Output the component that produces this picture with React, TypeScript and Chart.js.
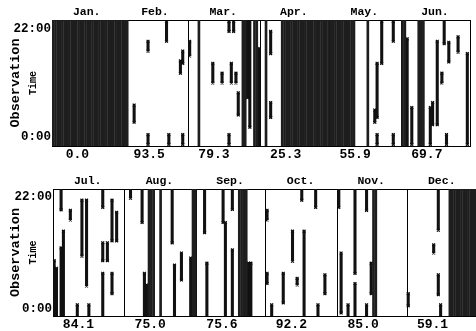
import React, { useEffect, useRef } from "react";
import { Chart, registerables } from "chart.js";

Chart.register(...registerables);

// ---------- labels ----------
const monthsA = ["Jan.", "Feb.", "Mar.", "Apr.", "May.", "Jun."];
const daysA = [31, 28, 31, 30, 31, 30];
const availA = ["0.0", "93.5", "79.3", "25.3", "55.9", "69.7"];

const monthsB = ["Jul.", "Aug.", "Sep.", "Oct.", "Nov.", "Dec."];
const daysB = [31, 31, 30, 31, 30, 31];
const availB = ["84.1", "75.0", "75.6", "92.2", "85.0", "59.1"];

const hourTicks = [0, 22];
const hourLabels = ["0:00", "22:00"];

// ---------- days with no observation at all ----------
const fullJan = [1, 2, 3, 4, 5, 6, 7, 8, 9, 10, 11, 12, 13, 14, 15, 16, 17, 18, 19, 20, 21, 22, 23, 24, 25, 26, 27, 28, 29, 30, 31];
const fullFeb = [1, 2];
const fullMar = [5, 24, 25, 29, 30];
const fullApr = [3, 10, 11, 12, 13, 14, 15, 16, 17, 18, 19, 20, 21, 22, 23, 24, 25, 26, 27, 28, 29, 30];
const fullMay = [1, 2, 3, 4, 5, 6, 7, 8, 9, 10, 11, 17];
const fullJun = [1, 2, 8, 9, 10];
const fullJul: number[] = [];
const fullAug = [11, 12, 13, 16, 30, 31];
const fullSep = [19, 20, 21, 22];
const fullOct: number[] = [];
const fullNov = [16, 17];
const fullDec = [19, 20, 21, 22, 23, 24, 25, 26, 27, 28, 29, 30, 31];

// ---------- partial gaps: [day, fromHour, toHour] ----------
const gapsJan: number[][] = [];
const gapsFeb = [[5, 3, 6.5], [11, 17.5, 19.5], [11, -1.5, 0.5], [19, 19.5, 23.5], [20, -1.5, 0.5], [25, 13, 15.5], [26, 15, 17.5], [26, -1.5, 0.5]];
const gapsMar = [[1, 16.5, 19.5], [11, 11, 15], [15, 11, 13], [18, 21.5, 23.5], [18, -1.5, 0.5], [19, 11, 15], [20, 21.5, 23.5], [21, 11, 13], [22, 4.5, 9], [26, 8, 23.8], [27, 2, 23.8], [31, -1.8, 18]];
const gapsApr = [[5, 17, 21.5], [5, 4, 7]];
const gapsMay = [[20, 3, 5.5], [21, 4, 15], [21, -1.5, 0.5], [23, 15, 23.5], [28, 19.5, 23.5], [28, -1.5, 0.5]];
const gapsJun = [[3, -1.8, 20], [5, -1.5, 6], [13, -1.5, 6], [14, 2.5, 7], [16, 2.5, 19.5], [18, 11, 13], [19, 19, 23.8], [20, -1.5, 0.5], [21, 15.3, 19.3], [25, 17.3, 20.4], [29, -1.5, 17]];
const gapsJul = [[1, -1.4, 9.5], [2, -1.4, 8], [4, 19.5, 23.5], [4, -1.4, 12], [5, -1.4, 15.3], [8, 17.5, 19.4], [11, -1.4, 0.8], [13, 10.4, 21.4], [15, 4.5, 21.4], [16, -1.4, 0.8], [22, 20, 23.4], [22, 9.5, 13], [22, -1.4, 7], [24, 9.5, 13], [26, 13.4, 21.4], [26, 3, 7], [28, 13.4, 19]];
const gapsAug = [[3, 21.8, 23.6], [8, 17, 23.6], [9, -1.4, 7], [10, -1.4, 4.7], [21, 13, 23.6], [22, -1.4, 8.6], [25, 5.7, 11], [29, -1.4, 10]];
const gapsSep = [[4, 15, 23.6], [5, -1.4, 9], [12, 17, 23.6], [13, -1.4, 17], [16, 19.6, 23.6], [16, -1.4, 11.6], [23, -1.4, 9], [24, -1.4, 9]];
const gapsOct = [[1, 17.5, 19.4], [1, 5, 7], [3, -1.4, 0.8], [8, 1.2, 7], [12, 9.4, 15.3], [14, 4.7, 6], [16, 21.4, 23.6], [17, -1.4, 15.3], [22, 20, 23.6], [23, -1.4, 0.8], [26, 3, 6.7]];
const gapsNov = [[1, 20, 23.6], [2, -0.8, 11], [5, -1.4, 0.8], [8, 7, 23.6], [8, -1.4, 5], [13, 19.4, 23.6], [13, -1.4, 0.8], [15, 3, 9]];
const gapsDec = [[1, 0.6, 3], [12, 11, 12.6], [14, 15.5, 23.6], [14, 2.8, 6.7], [15, -1.4, 0.8]];

type RowCfg = {
  months: string[];
  days: number[];
  avail: string[];
  full: number[][];
  gaps: number[][][];
  yMin: number;
  yMax: number;
  width: number;
  height: number;
  topH: number;
  bottomH: number;
  axisW: number;
  padRight: number;
};

const FONT = "'Liberation Mono', 'DejaVu Sans Mono', monospace";

function RowChart({ cfg }: { cfg: RowCfg }) {
  const ref = useRef<HTMLCanvasElement>(null);
  useEffect(() => {
    if (!ref.current) return;
    const starts: number[] = [];
    let acc = 0;
    cfg.days.forEach((d) => {
      starts.push(acc);
      acc += d;
    });
    const total = acc;
    const fullBars: any[] = [];
    cfg.full.forEach((list, m) =>
      list.forEach((d) => fullBars.push({ x: starts[m] + d - 0.5, y: [cfg.yMin - 3, cfg.yMax + 3] }))
    );
    const gapBars: any[] = [];
    const caps: any[] = [];
    cfg.gaps.forEach((list, m) =>
      list.forEach(([d, a, b]) => {
        const x = starts[m] + d - 0.5;
        gapBars.push({ x, y: [a, b] });
        if (a > cfg.yMin + 0.3) caps.push({ x, y: a });
        if (b < cfg.yMax - 0.3) caps.push({ x, y: b });
      })
    );
    const boundaries = [...starts, total];
    const topPos = starts.map((s, i) => s + cfg.days[i] / 2 - 0.5);
    const botPos = starts.map((s) => s + 11);

    const xCommon = { type: "linear" as const, min: 0, max: total, offset: false };

    const chart = new Chart(ref.current, {
      type: "bar",
      data: {
        datasets: [
          {
            type: "bar",
            data: fullBars,
            backgroundColor: "#1e1e1e",
            barThickness: 2,
            grouped: false,
            xAxisID: "x",
            yAxisID: "y",
          } as any,
          {
            type: "bar",
            data: gapBars,
            backgroundColor: "#111",
            barThickness: 2.4,
            grouped: false,
            xAxisID: "x",
            yAxisID: "y",
          } as any,
          {
            type: "scatter",
            data: caps,
            pointStyle: "crossRot",
            radius: 2,
            borderWidth: 1.2,
            borderColor: "#000",
            xAxisID: "x",
            yAxisID: "y",
          } as any,
        ],
      },
      options: {
        animation: false,
        responsive: false,
        devicePixelRatio: 1,
        layout: { padding: { left: 0, right: cfg.padRight, top: 0, bottom: 0 } },
        plugins: { legend: { display: false }, tooltip: { enabled: false } },
        scales: {
          x: {
            ...xCommon,
            position: "bottom",
            weight: 1,
            afterBuildTicks: (s: any) => {
              s.ticks = botPos.map((v) => ({ value: v }));
            },
            afterFit: (s: any) => {
              s.height = cfg.bottomH;
            },
            ticks: {
              autoSkip: false,
              maxRotation: 0,
              minRotation: 0,
              padding: 1,
              color: "#000",
              font: { family: FONT, size: 13, weight: "bold" },
              callback: (_v: any, i: number) => cfg.avail[i],
            },
            grid: { display: false, drawTicks: false, offset: false },
            border: { display: true, color: "#000", width: 1 },
          },
          xDiv: {
            ...xCommon,
            position: "bottom",
            weight: 0,
            afterBuildTicks: (s: any) => {
              s.ticks = boundaries.map((v) => ({ value: v }));
            },
            afterFit: (s: any) => {
              s.height = 0;
            },
            ticks: { display: false },
            grid: { display: true, drawTicks: false, offset: false, color: "#000", lineWidth: 1 },
            border: { display: false },
          },
          xTop: {
            ...xCommon,
            position: "top",
            afterBuildTicks: (s: any) => {
              s.ticks = topPos.map((v) => ({ value: v }));
            },
            afterFit: (s: any) => {
              s.height = cfg.topH;
            },
            ticks: {
              autoSkip: false,
              maxRotation: 0,
              minRotation: 0,
              padding: 1,
              color: "#000",
              font: { family: FONT, size: 11.5, weight: "bold" },
              callback: (_v: any, i: number) => cfg.months[i],
            },
            grid: { display: false, drawTicks: false, offset: false },
            border: { display: true, color: "#000", width: 1 },
          },
          y: {
            type: "linear",
            position: "left",
            weight: 0,
            min: cfg.yMin,
            max: cfg.yMax,
            afterBuildTicks: (s: any) => {
              s.ticks = hourTicks.map((v) => ({ value: v }));
            },
            afterFit: (s: any) => {
              s.width = cfg.axisW;
            },
            ticks: {
              padding: 1,
              color: "#000",
              font: { family: FONT, size: 12.5, weight: "bold" },
              callback: (_v: any, i: number) => hourLabels[i],
            },
            grid: { display: false, drawTicks: false },
            border: { display: true, color: "#000", width: 1 },
            title: {
              display: true,
              text: "Observation",
              color: "#000",
              font: { family: FONT, size: 13.5, weight: "bold" },
              padding: { top: 7, bottom: 0 },
            },
          },
          yTime: {
            type: "linear",
            position: "left",
            weight: 2,
            min: cfg.yMin,
            max: cfg.yMax,
            afterFit: (s: any) => {
              s.width = 0;
            },
            ticks: { display: false },
            grid: { display: false, drawTicks: false },
            border: { display: false },
            title: {
              display: true,
              text: "Time",
              color: "#000",
              font: { family: FONT, size: 10, weight: "bold" },
              padding: { top: 27, bottom: 0 },
            },
          },
        },
      } as any,
    });
    return () => chart.destroy();
  }, []);
  return (
    <div style={{ width: 476, height: cfg.height, overflow: "hidden" }}>
      <canvas ref={ref} width={cfg.width} height={cfg.height} style={{ display: "block", width: cfg.width, height: cfg.height }} />
    </div>
  );
}

const rowA: RowCfg = {
  months: monthsA,
  days: daysA,
  avail: availA,
  full: [fullJan, fullFeb, fullMar, fullApr, fullMay, fullJun],
  gaps: [gapsJan, gapsFeb, gapsMar, gapsApr, gapsMay, gapsJun],
  yMin: -1.83,
  yMax: 23.83,
  width: 476,
  height: 165,
  topH: 20,
  bottomH: 19,
  axisW: 52,
  padRight: 5,
};

const rowB: RowCfg = {
  months: monthsB,
  days: daysB,
  avail: availB,
  full: [fullJul, fullAug, fullSep, fullOct, fullNov, fullDec],
  gaps: [gapsJul, gapsAug, gapsSep, gapsOct, gapsNov, gapsDec],
  yMin: -1.4,
  yMax: 23.6,
  width: 484,
  height: 166,
  topH: 24,
  bottomH: 15,
  axisW: 53,
  padRight: 4,
};

export default function App() {
  return (
    <div style={{ width: 476, height: 331, background: "#fff" }}>
      <style>{`body{margin:0;background:#fff}`}</style>
      <RowChart cfg={rowA} />
      <RowChart cfg={rowB} />
    </div>
  );
}
